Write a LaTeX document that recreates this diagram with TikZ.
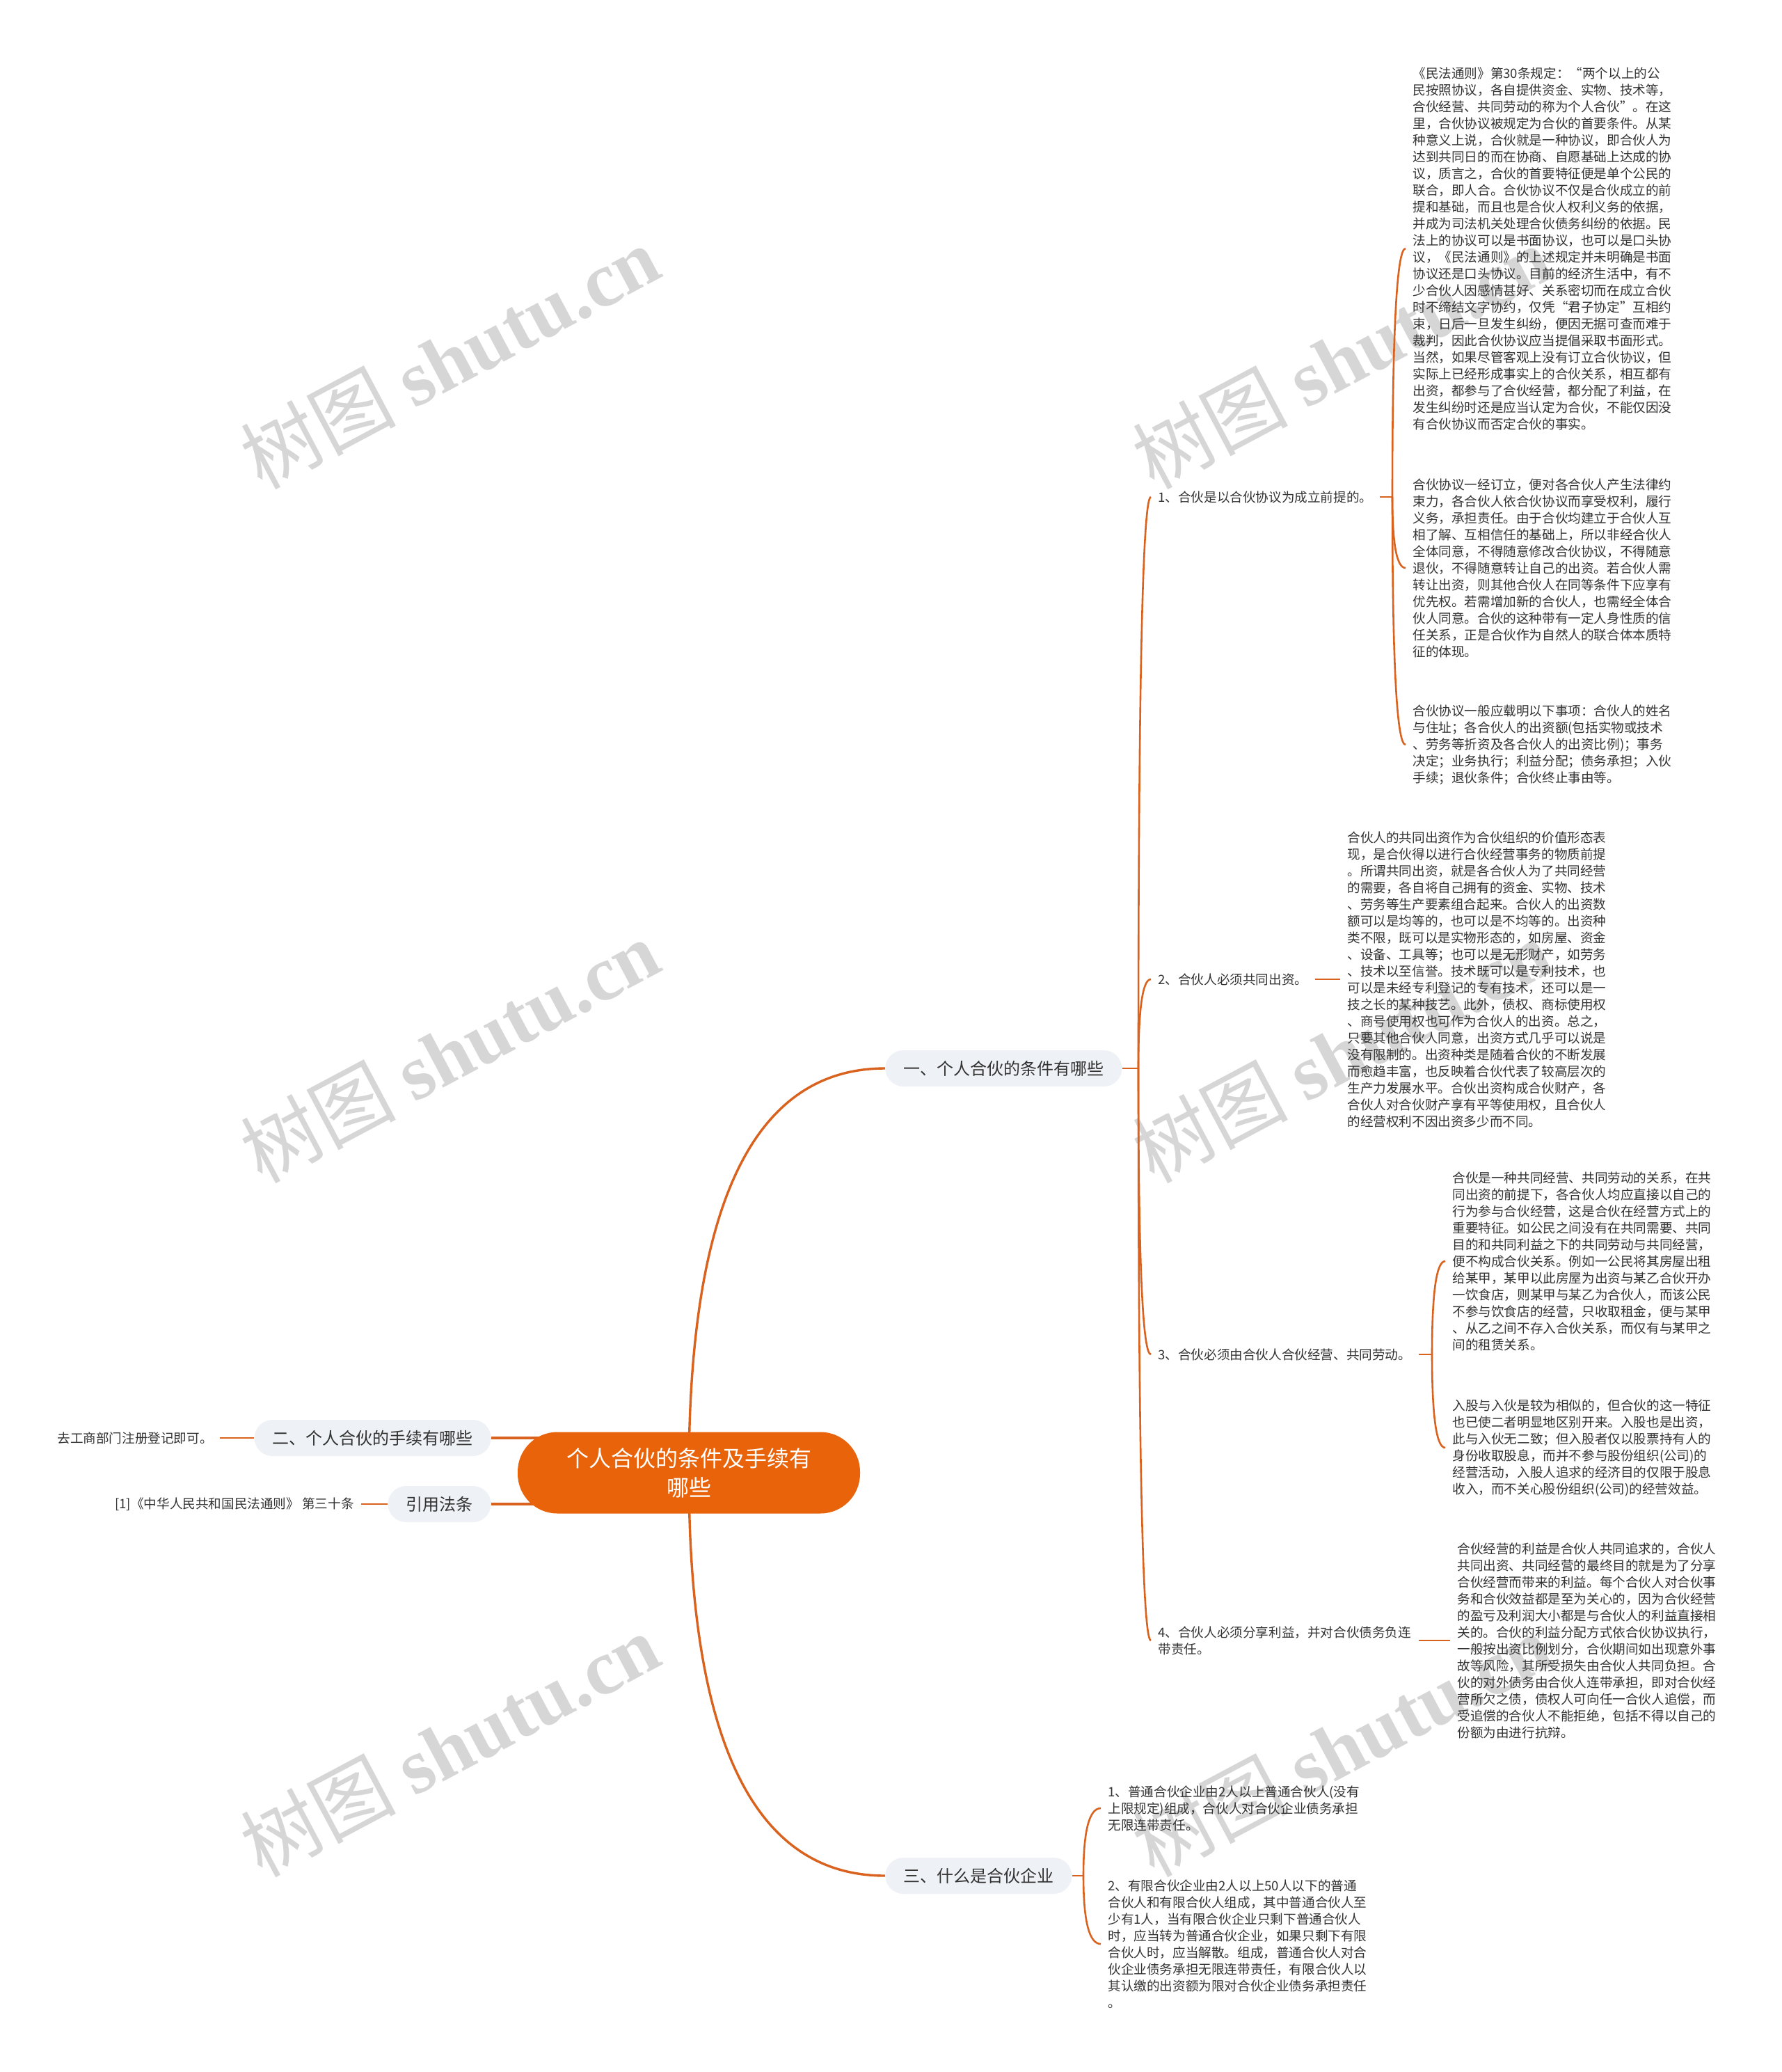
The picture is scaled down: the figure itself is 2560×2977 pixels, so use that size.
\documentclass[tikz,border=0pt]{standalone}
\usepackage{fontspec}
\setmainfont{Noto Sans CJK SC}
\newfontfamily\wmserif{Liberation Serif}
\usetikzlibrary{calc}
\pgfdeclarelayer{wm}
\pgfdeclarelayer{bg}
\pgfsetlayers{wm,bg,main}
\definecolor{lineor}{HTML}{D9631E}
\definecolor{coreor}{HTML}{E8630A}
\definecolor{branchfill}{HTML}{EEF1F5}
\definecolor{txt}{HTML}{333333}
\definecolor{wmgray}{HTML}{D6D6D6}
\tikzset{
  leaf/.style={anchor=west, align=left, inner xsep=5pt, inner ysep=0pt, font=\fontsize{9.3pt}{12pt}\selectfont, text=txt},
  branch/.style={fill=branchfill, rounded corners=13pt, minimum height=26pt, inner xsep=13pt, inner ysep=0pt, font=\fontsize{12pt}{14pt}\selectfont, text=txt},
  core/.style={fill=coreor, text=white, rounded corners=28.5pt, minimum width=246pt, minimum height=58.5pt, align=center, font=\fontsize{16pt}{21pt}\selectfont},
  conn/.style={draw=lineor, line width=1.3pt},
  mainconn/.style={draw=lineor, line width=1.7pt},
  qc/.style={to path={.. controls ($(\tikztostart)!2/3!(\tikztostart|-\tikztotarget)$) and ($(\tikztotarget)!2/3!(\tikztostart|-\tikztotarget)$) .. (\tikztotarget)}},
  wmark/.style={rotate=28, text=wmgray, font=\fontsize{56pt}{60pt}\selectfont},
}
\begin{document}
\begin{tikzpicture}[x=0.5pt, y=-0.5pt]
\useasboundingbox (0,0) rectangle (2560,2977);
\begin{pgfonlayer}{wm}
\fill[white] (0,0) rectangle (2560,2977);
\node[wmark] (w1) at (646,513) {树图 {\wmserif\bfseries shutu.cn}};
\node[wmark] (w2) at (646,1510) {树图 {\wmserif\bfseries shutu.cn}};
\node[wmark] (w3) at (646,2507) {树图 {\wmserif\bfseries shutu.cn}};
\node[wmark] (w4) at (1928,513) {树图 {\wmserif\bfseries shutu.cn}};
\node[wmark] (w5) at (1928,1510) {树图 {\wmserif\bfseries shutu.cn}};
\node[wmark] (w6) at (1928,2507) {树图 {\wmserif\bfseries shutu.cn}};
\end{pgfonlayer}

% core and branches
\node[core] (core) at (990,2116) {个人合伙的条件及手续有\\哪些};
\node[branch, anchor=west] (b1) at (1272,1535) {一、个人合伙的条件有哪些};
\node[branch, anchor=west] (b3) at (1272,2695) {三、什么是合伙企业};
\node[branch, anchor=east] (b2) at (706,2066) {二、个人合伙的手续有哪些};
\node[branch, anchor=east] (b4) at (706,2161) {引用法条};

% left leaves
\node[leaf, anchor=east] (l2) at (316,2066) {去工商部门注册登记即可。};
\node[leaf, anchor=east] (l4) at (519,2161) {[1]《中华人民共和国民法通则》 第三十条};

% children of branch 1
\node[leaf] (c1) at (1654,714) {1、合伙是以合伙协议为成立前提的。};
\node[leaf] (c2) at (1654,1407) {2、合伙人必须共同出资。};
\node[leaf] (c3) at (1654,1946) {3、合伙必须由合伙人合伙经营、共同劳动。};
\node[leaf] (c4) at (1654,2357) {4、合伙人必须分享利益，并对合伙债务负连\\带责任。};

% text blocks
\node[leaf] (L1) at (2020,357) {《民法通则》第30条规定：“两个以上的公\\
民按照协议，各自提供资金、实物、技术等，\\
合伙经营、共同劳动的称为个人合伙”。在这\\
里，合伙协议被规定为合伙的首要条件。从某\\
种意义上说，合伙就是一种协议，即合伙人为\\
达到共同日的而在协商、自愿基础上达成的协\\
议，质言之，合伙的首要特征便是单个公民的\\
联合，即人合。合伙协议不仅是合伙成立的前\\
提和基础，而且也是合伙人权利义务的依据，\\
并成为司法机关处理合伙债务纠纷的依据。民\\
法上的协议可以是书面协议，也可以是口头协\\
议，《民法通则》的上述规定并未明确是书面\\
协议还是口头协议。目前的经济生活中，有不\\
少合伙人因感情甚好、关系密切而在成立合伙\\
时不缔结文字协约，仅凭“君子协定”互相约\\
束，日后一旦发生纠纷，便因无据可查而难于\\
裁判，因此合伙协议应当提倡采取书面形式。\\
当然，如果尽管客观上没有订立合伙协议，但\\
实际上已经形成事实上的合伙关系，相互都有\\
出资，都参与了合伙经营，都分配了利益，在\\
发生纠纷时还是应当认定为合伙，不能仅因没\\
有合伙协议而否定合伙的事实。};

\node[leaf] (L2) at (2020,816) {合伙协议一经订立，便对各合伙人产生法律约\\
束力，各合伙人依合伙协议而享受权利，履行\\
义务，承担责任。由于合伙均建立于合伙人互\\
相了解、互相信任的基础上，所以非经合伙人\\
全体同意，不得随意修改合伙协议，不得随意\\
退伙，不得随意转让自己的出资。若合伙人需\\
转让出资，则其他合伙人在同等条件下应享有\\
优先权。若需增加新的合伙人，也需经全体合\\
伙人同意。合伙的这种带有一定人身性质的信\\
任关系，正是合伙作为自然人的联合体本质特\\
征的体现。};

\node[leaf] (L3) at (2020,1070) {合伙协议一般应载明以下事项：合伙人的姓名\\
与住址；各合伙人的出资额(包括实物或技术\\
、劳务等折资及各合伙人的出资比例)；事务\\
决定；业务执行；利益分配；债务承担；入伙\\
手续；退伙条件；合伙终止事由等。};

\node[leaf] (L4) at (1926,1407) {合伙人的共同出资作为合伙组织的价值形态表\\
现，是合伙得以进行合伙经营事务的物质前提\\
。所谓共同出资，就是各合伙人为了共同经营\\
的需要，各自将自己拥有的资金、实物、技术\\
、劳务等生产要素组合起来。合伙人的出资数\\
额可以是均等的，也可以是不均等的。出资种\\
类不限，既可以是实物形态的，如房屋、资金\\
、设备、工具等；也可以是无形财产，如劳务\\
、技术以至信誉。技术既可以是专利技术，也\\
可以是未经专利登记的专有技术，还可以是一\\
技之长的某种技艺。此外，债权、商标使用权\\
、商号使用权也可作为合伙人的出资。总之，\\
只要其他合伙人同意，出资方式几乎可以说是\\
没有限制的。出资种类是随着合伙的不断发展\\
而愈趋丰富，也反映着合伙代表了较高层次的\\
生产力发展水平。合伙出资构成合伙财产，各\\
合伙人对合伙财产享有平等使用权，且合伙人\\
的经营权利不因出资多少而不同。};

\node[leaf] (L5) at (2077,1812) {合伙是一种共同经营、共同劳动的关系，在共\\
同出资的前提下，各合伙人均应直接以自己的\\
行为参与合伙经营，这是合伙在经营方式上的\\
重要特征。如公民之间没有在共同需要、共同\\
目的和共同利益之下的共同劳动与共同经营，\\
便不构成合伙关系。例如一公民将其房屋出租\\
给某甲，某甲以此房屋为出资与某乙合伙开办\\
一饮食店，则某甲与某乙为合伙人，而该公民\\
不参与饮食店的经营，只收取租金，便与某甲\\
、从乙之间不存入合伙关系，而仅有与某甲之\\
间的租赁关系。};

\node[leaf] (L6) at (2077,2080) {入股与入伙是较为相似的，但合伙的这一特征\\
也已使二者明显地区别开来。入股也是出资，\\
此与入伙无二致；但入股者仅以股票持有人的\\
身份收取股息，而并不参与股份组织(公司)的\\
经营活动，入股人追求的经济目的仅限于股息\\
收入，而不关心股份组织(公司)的经营效益。};

\node[leaf] (L7) at (2084,2357) {合伙经营的利益是合伙人共同追求的，合伙人\\
共同出资、共同经营的最终目的就是为了分享\\
合伙经营而带来的利益。每个合伙人对合伙事\\
务和合伙效益都是至为关心的，因为合伙经营\\
的盈亏及利润大小都是与合伙人的利益直接相\\
关的。合伙的利益分配方式依合伙协议执行，\\
一般按出资比例划分，合伙期间如出现意外事\\
故等风险，其所受损失由合伙人共同负担。合\\
伙的对外债务由合伙人连带承担，即对合伙经\\
营所欠之债，债权人可向任一合伙人追偿，而\\
受追偿的合伙人不能拒绝，包括不得以自己的\\
份额为由进行抗辩。};

\node[leaf] (L8) at (1582,2598) {1、普通合伙企业由2人以上普通合伙人(没有\\
上限规定)组成，合伙人对合伙企业债务承担\\
无限连带责任。};

\node[leaf] (L9) at (1582,2793) {2、有限合伙企业由2人以上50人以下的普通\\
合伙人和有限合伙人组成，其中普通合伙人至\\
少有1人，当有限合伙企业只剩下普通合伙人\\
时，应当转为普通合伙企业，如果只剩下有限\\
合伙人时，应当解散。组成，普通合伙人对合\\
伙企业债务承担无限连带责任，有限合伙人以\\
其认缴的出资额为限对合伙企业债务承担责任\\
。};

% junctions
\coordinate (j1) at (1636,1535);
\coordinate (jc1) at (2001,714);
\coordinate (jc3) at (2058,1946);
\coordinate (j3) at (1557,2695);

\begin{pgfonlayer}{bg}
\draw[mainconn] (core.center) to[qc] (b1.west);
\draw[mainconn] (core.center) to[qc] (b3.west);
\draw[mainconn] (b2.east) -- (b2.east -| core.center);
\draw[mainconn] (b4.east) -- (b4.east -| core.center);
\draw[conn] (l2.east) -- (b2.west);
\draw[conn] (l4.east) -- (b4.west);
\draw[conn] (b1.east) -- (j1);
\draw[conn] (j1) to[qc] (c1.west);
\draw[conn] (j1) to[qc] (c2.west);
\draw[conn] (j1) to[qc] (c3.west);
\draw[conn] (j1) to[qc] (c4.west);
\draw[conn] (c1.east) -- (jc1);
\draw[conn] (jc1) to[qc] (L1.west);
\draw[conn] (jc1) to[qc] (L2.west);
\draw[conn] (jc1) to[qc] (L3.west);
\draw[conn] (c2.east) -- (L4.west);
\draw[conn] (c3.east) -- (jc3);
\draw[conn] (jc3) to[qc] (L5.west);
\draw[conn] (jc3) to[qc] (L6.west);
\draw[conn] (c4.east) -- (L7.west);
\draw[conn] (b3.east) -- (j3);
\draw[conn] (j3) to[qc] (L8.west);
\draw[conn] (j3) to[qc] (L9.west);
\end{pgfonlayer}
\end{tikzpicture}
\end{document}
